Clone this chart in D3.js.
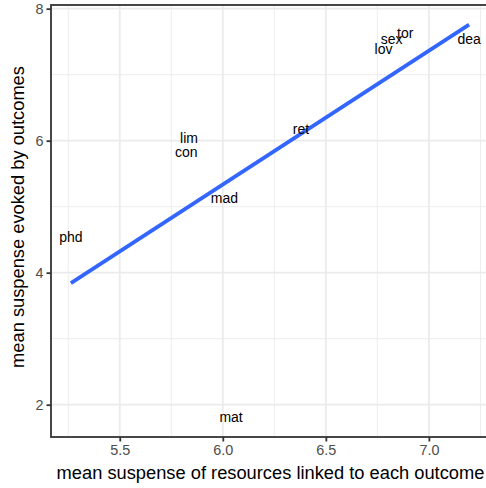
<!DOCTYPE html>
<html>
<head>
<meta charset="utf-8">
<script src="https://cdn.jsdelivr.net/npm/d3@7"></script>
<style>
  body { margin: 0; background: #fff; }
  svg { display: block; font-family: "Liberation Sans", Arial, Helvetica, sans-serif; }
</style>
</head>
<body>
<svg width="486" height="488"></svg>
<script>
// etiquetas de cada resultado y sus medias
const etiquetas = ["dea", "tor", "sex", "lov", "ret", "lim", "con", "mad", "phd", "mat"];
const suspRecursos = [7.195, 6.885, 6.819, 6.780, 6.379, 5.836, 5.823, 6.008, 5.263, 6.040];
const suspResultado = [7.526, 7.617, 7.526, 7.374, 6.162, 6.030, 5.814, 5.117, 4.526, 1.808];

const xTicks = [5.5, 6.0, 6.5, 7.0];
const xMinor = [5.25, 5.75, 6.25, 6.75, 7.25];
const yTicks = [2, 4, 6, 8];
const yMinor = [3, 5, 7];

// ajuste lineal (como geom_smooth method = "lm")
const mx = d3.mean(suspRecursos), my = d3.mean(suspResultado);
let sxy = 0, sxx = 0;
suspRecursos.forEach((x, i) => {
    sxy += (x - mx) * (suspResultado[i] - my);
    sxx += (x - mx) * (x - mx);
});
const pendiente = sxy / sxx;
const intercepto = my - pendiente * mx;
const [xMin, xMax] = d3.extent(suspRecursos);
const ajuste = [xMin, xMax].map(x => [x, intercepto + pendiente * x]);

// dominios con la expansión del 5%
const yVals = suspResultado.concat(ajuste.map(d => d[1]));
const [yMin, yMax] = d3.extent(yVals);
const ex = (xMax - xMin) * 0.05, ey = (yMax - yMin) * 0.05;

const pLeft = 51, pRight = 489, pTop = 5, pBottom = 437;

const x = d3.scaleLinear().domain([xMin - ex, xMax + ex]).range([pLeft, pRight]);
const y = d3.scaleLinear().domain([yMin - ey, yMax + ey]).range([pBottom, pTop]);

const svg = d3.select("svg");

// rejilla
const grid = svg.append("g");
grid.selectAll(".vmin").data(xMinor).enter().append("line")
    .attr("x1", d => x(d)).attr("x2", d => x(d))
    .attr("y1", pTop).attr("y2", pBottom)
    .attr("stroke", "#ebebeb").attr("stroke-width", 0.9);
grid.selectAll(".hmin").data(yMinor).enter().append("line")
    .attr("x1", pLeft).attr("x2", pRight)
    .attr("y1", d => y(d)).attr("y2", d => y(d))
    .attr("stroke", "#ebebeb").attr("stroke-width", 0.9);
grid.selectAll(".vmaj").data(xTicks).enter().append("line")
    .attr("x1", d => x(d)).attr("x2", d => x(d))
    .attr("y1", pTop).attr("y2", pBottom)
    .attr("stroke", "#ebebeb").attr("stroke-width", 1.8);
grid.selectAll(".hmaj").data(yTicks).enter().append("line")
    .attr("x1", pLeft).attr("x2", pRight)
    .attr("y1", d => y(d)).attr("y2", d => y(d))
    .attr("stroke", "#ebebeb").attr("stroke-width", 1.8);

// línea de ajuste
svg.append("path")
    .datum(ajuste)
    .attr("d", d3.line().x(d => x(d[0])).y(d => y(d[1])))
    .attr("fill", "none")
    .attr("stroke", "#3366FF")
    .attr("stroke-width", 3.8);

// etiquetas de texto
svg.append("g").selectAll("text")
    .data(etiquetas)
    .enter()
    .append("text")
    .attr("x", (d, i) => x(suspRecursos[i]))
    .attr("y", (d, i) => y(suspResultado[i]))
    .attr("dy", "0.3em")
    .attr("text-anchor", "middle")
    .style("font-size", "14px")
    .style("fill", "#000")
    .text(d => d);

// borde del panel
svg.append("rect")
    .attr("x", pLeft).attr("y", pTop)
    .attr("width", pRight - pLeft).attr("height", pBottom - pTop)
    .attr("fill", "none")
    .attr("stroke", "#333333")
    .attr("stroke-width", 1.8);

// ejes
const xAxis = svg.append("g")
    .attr("transform", `translate(0,${pBottom})`)
    .call(d3.axisBottom(x).tickValues(xTicks).tickFormat(d3.format(".1f")).tickSize(4.5).tickPadding(3));
const yAxis = svg.append("g")
    .attr("transform", `translate(${pLeft},0)`)
    .call(d3.axisLeft(y).tickValues(yTicks).tickFormat(d3.format("d")).tickSize(4.5).tickPadding(3));

[xAxis, yAxis].forEach(a => {
    a.select(".domain").remove();
    a.selectAll(".tick line").attr("stroke", "#333333").attr("stroke-width", 1.8);
    a.selectAll(".tick text")
        .attr("fill", "#4d4d4d")
        .style("font-size", "14.4px")
        .style("font-family", "'Liberation Sans', Arial, sans-serif");
});

// títulos
svg.append("text")
    .attr("x", (pLeft + 486) / 2 + 2)
    .attr("y", 479)
    .attr("text-anchor", "middle")
    .style("font-size", "18.3px")
    .style("fill", "#000")
    .text("mean suspense of resources linked to each outcome");

svg.append("text")
    .attr("transform", `translate(24,${(pTop + pBottom) / 2 - 4}) rotate(-90)`)
    .attr("text-anchor", "middle")
    .style("font-size", "18.3px")
    .style("fill", "#000")
    .text("mean suspense evoked by outcomes");
</script>
</body>
</html>
